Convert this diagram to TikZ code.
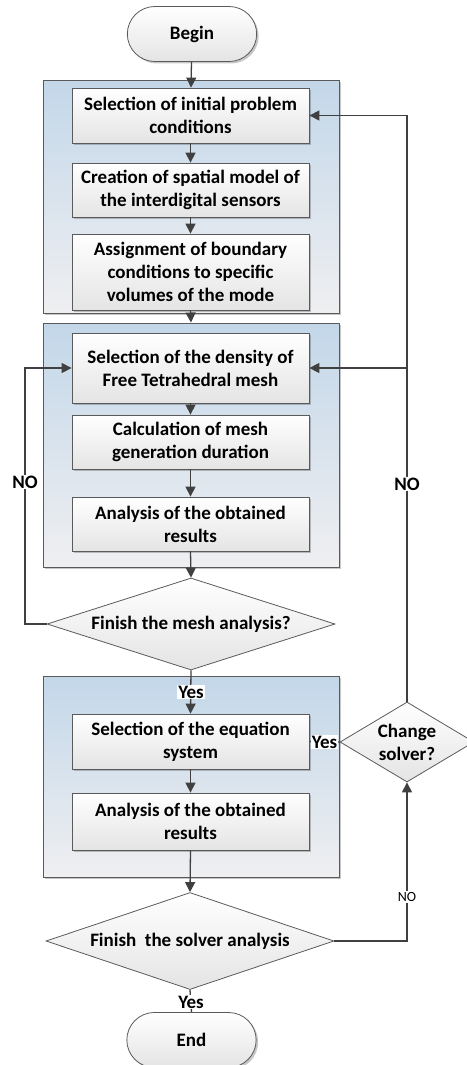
\documentclass[tikz,border=0pt]{standalone}
\usepackage{fontspec}
\setmainfont{Carlito}
\usetikzlibrary{shapes.geometric,shapes.misc,shadows,arrows.meta}
\definecolor{linec}{HTML}{404040}
\definecolor{boxborder}{HTML}{5A5A5A}
\definecolor{boxbot}{HTML}{E4E4E4}
\definecolor{conttop}{HTML}{C3D7E9}
\definecolor{contbot}{HTML}{EFEFF1}
\newcommand\mainfnt{\fontsize{19}{23}\selectfont\bfseries}
\newcommand\smallfnt{\fontsize{14}{16}\selectfont}
\tikzset{
  shad/.style={drop shadow={shadow xshift=2pt,shadow yshift=-2pt,fill=black,opacity=0.22}},
  container/.style={rectangle,draw=boxborder,line width=1pt,top color=conttop,bottom color=contbot,minimum width=296pt,inner sep=0pt,shad},
  procbox/.style={rectangle,draw=boxborder,line width=0.8pt,top color=white,bottom color=boxbot,minimum width=237pt,inner sep=2pt,align=center,font=\mainfnt,shad},
  term/.style={rounded rectangle,draw=boxborder,line width=0.8pt,top color=white,bottom color=boxbot,minimum width=136pt,minimum height=55pt,font=\mainfnt,shad},
  dia/.style={diamond,draw=boxborder,line width=0.8pt,top color=white,bottom color=boxbot,inner sep=0pt,align=center,font=\mainfnt},
  arr/.style={draw=linec,line width=1.3pt,-{Triangle[length=10pt,width=10pt]}},
  lbl/.style={fill=white,inner sep=1pt,font=\mainfnt},
  slbl/.style={fill=white,inner sep=1pt,font=\smallfnt},
}
\begin{document}
\begin{tikzpicture}[x=1pt,y=-1pt]
\useasboundingbox (0,0) rectangle (466,1065);
% containers
\node[container,minimum height=233pt] (c1) at (191,196.5) {};
\node[container,minimum height=244pt] (c2) at (191,445) {};
\node[container,minimum height=201pt] (c3) at (191,776.5) {};
% terminators
\node[term] (begin) at (192,34) {Begin};
\node[term] (end) at (191.5,1040) {End};
% process boxes
\node[procbox,minimum height=55pt] (b1) at (190.5,115.5) {Selection of initial problem\\conditions};
\node[procbox,minimum height=54pt] (b2) at (190.5,190) {Creation of spatial model of\\the interdigital sensors};
\node[procbox,minimum height=76pt] (b3) at (190.5,272) {Assignment of boundary\\conditions to specific\\volumes of the mode};
\node[procbox,minimum height=70pt] (d1) at (190.5,368) {Selection of the density of\\Free Tetrahedral mesh};
\node[procbox,minimum height=54pt] (d2) at (190.5,442) {Calculation of mesh\\generation duration};
\node[procbox,minimum height=54pt] (d3) at (190.5,524) {Analysis of the obtained\\results};
\node[procbox,minimum height=55pt] (e1) at (190.5,741.5) {Selection of the equation\\system};
\node[procbox,minimum height=57pt] (e2) at (190.5,821.5) {Analysis of the obtained\\results};
% decisions
\node[dia,aspect=3,minimum width=288pt,minimum height=92pt] (dm1) at (191,624) {Finish the mesh analysis?};
\node[dia,aspect=3,minimum width=288pt,minimum height=97pt] (dm2) at (190,941) {Finish\ \ the solver analysis};
\node[dia,aspect=1.67,minimum width=134pt,minimum height=80pt] (cs) at (407,742) {Change\\solver?};
% helper coordinates
\coordinate (lx) at (25,0);
\coordinate (br) at (cs.north |- d1.east);
% connectors
\draw[arr] (begin) -- (b1);
\draw[arr] (b1) -- (b2);
\draw[arr] (b2) -- (b3);
\draw[arr] (b3.south) -- (c2.north);
\draw[arr] (d1) -- (d2);
\draw[arr] (d2) -- (d3);
\draw[arr] (d3.south) -- (dm1.north);
\draw[arr] (dm1.south) -- (e1.north);
\draw[arr] (e1) -- (e2);
\draw[arr] (e2.south) -- (dm2.north);
\draw[draw=linec,line width=1.3pt] (dm2.south) -- (end.north);
\draw[arr] (dm1.west) -- (dm1.west -| lx) |- (d1.west);
\draw[arr] (cs.north) |- (b1.east);
\draw[arr] (br) -- (d1.east);
\draw[arr] (dm2.east) -| (cs.south);
\draw[arr] (cs.west) -- (e1.east);
% labels
\node[lbl] (no1) at (25,482) {NO};
\node[lbl] (no2) at (407,484) {NO};
\node[slbl] (no3) at (407,897) {NO};
\node[lbl] (yes1) at (191,692) {Yes};
\node[lbl] (yes2) at (324.5,742) {Yes};
\node[lbl] (yes3) at (191,1002) {Yes};
\end{tikzpicture}
\end{document}
